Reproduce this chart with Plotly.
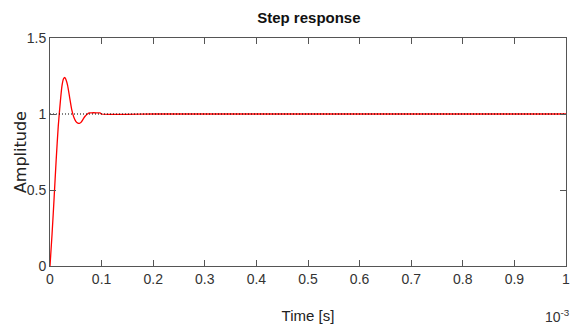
import plotly.graph_objects as go

# Time in units of 1e-3 s, amplitude values
time_ms = [0.0, 0.004, 0.008, 0.012, 0.016, 0.020, 0.023, 0.026, 0.028, 0.029, 0.031,
           0.034, 0.038, 0.042, 0.046, 0.050, 0.054, 0.057, 0.060, 0.064, 0.068,
           0.072, 0.076, 0.080, 0.090, 0.097, 0.100, 0.2, 0.3, 0.4, 0.5, 0.6, 0.7,
           0.8, 0.9, 1.0]
amplitude = [0.0, 0.21, 0.45, 0.70, 0.92, 1.08, 1.18, 1.23, 1.24, 1.238, 1.225,
             1.19, 1.11, 1.03, 0.98, 0.952, 0.94, 0.938, 0.945, 0.965, 0.985,
             0.999, 1.007, 1.008, 1.008, 1.007, 1.0, 1.0, 1.0, 1.0, 1.0, 1.0, 1.0,
             1.0, 1.0, 1.0]
ref_x = [0.0, 1.0]
ref_y = [1.0, 1.0]

x_ticks = [0, 0.1, 0.2, 0.3, 0.4, 0.5, 0.6, 0.7, 0.8, 0.9, 1]
x_tick_labels = ["0", "0.1", "0.2", "0.3", "0.4", "0.5", "0.6", "0.7", "0.8", "0.9", "1"]
y_ticks = [0, 0.5, 1, 1.5]
y_tick_labels = ["0", "0.5", "1", "1.5"]

narrow = "Liberation Sans Narrow, Arial Narrow, Liberation Sans, Arial, sans-serif"

fig = go.Figure()
fig.add_trace(go.Scatter(x=time_ms, y=amplitude, mode="lines",
                         line=dict(color="#ff0000", width=1.3, shape="spline", smoothing=0.6),
                         showlegend=False, hoverinfo="skip"))
fig.add_trace(go.Scatter(x=ref_x, y=ref_y, mode="lines",
                         line=dict(color="#000000", width=1.2, dash="1px,2px"),
                         showlegend=False, hoverinfo="skip"))

axis_common = dict(showgrid=False, zeroline=False, showline=True, linecolor="#555555",
                   linewidth=1, mirror="ticks", ticks="inside", ticklen=6,
                   tickcolor="#555555", tickwidth=1, automargin=False,
                   tickfont=dict(family=narrow, size=14, color="#333333"))

fig.update_layout(
    width=572, height=326,
    margin=dict(l=50, r=6, t=38, b=60),
    paper_bgcolor="white", plot_bgcolor="white",
    title=dict(text="<b>Step response</b>", x=0.54, xanchor="center",
               yref="container", y=0.945, yanchor="middle",
               font=dict(family=narrow, size=15, color="#111111")),
    xaxis=dict(range=[0, 1], tickvals=x_ticks, ticktext=x_tick_labels,
               title=dict(text="Time [s]", font=dict(family=narrow, size=15, color="#222222"),
                          standoff=24),
               **axis_common),
    yaxis=dict(range=[0, 1.5], tickvals=y_ticks, ticktext=y_tick_labels,
               **axis_common),
    annotations=[
        dict(text="10<sup>-3</sup>", xref="paper", yref="paper", x=0.984, y=-0.219,
             xanchor="center", yanchor="middle", showarrow=False,
             font=dict(family=narrow, size=14, color="#333333")),
        dict(text="Amplitude", xref="paper", yref="paper", x=-0.058, y=0.5,
             xanchor="center", yanchor="middle", textangle=-90, showarrow=False,
             font=dict(family="DejaVu Sans, Arial, sans-serif", size=16, color="#222222")),
    ],
)

fig.write_html("out.html", config={"displayModeBar": False},
               post_script="document.body.style.margin='0';document.body.style.overflow='hidden';")
